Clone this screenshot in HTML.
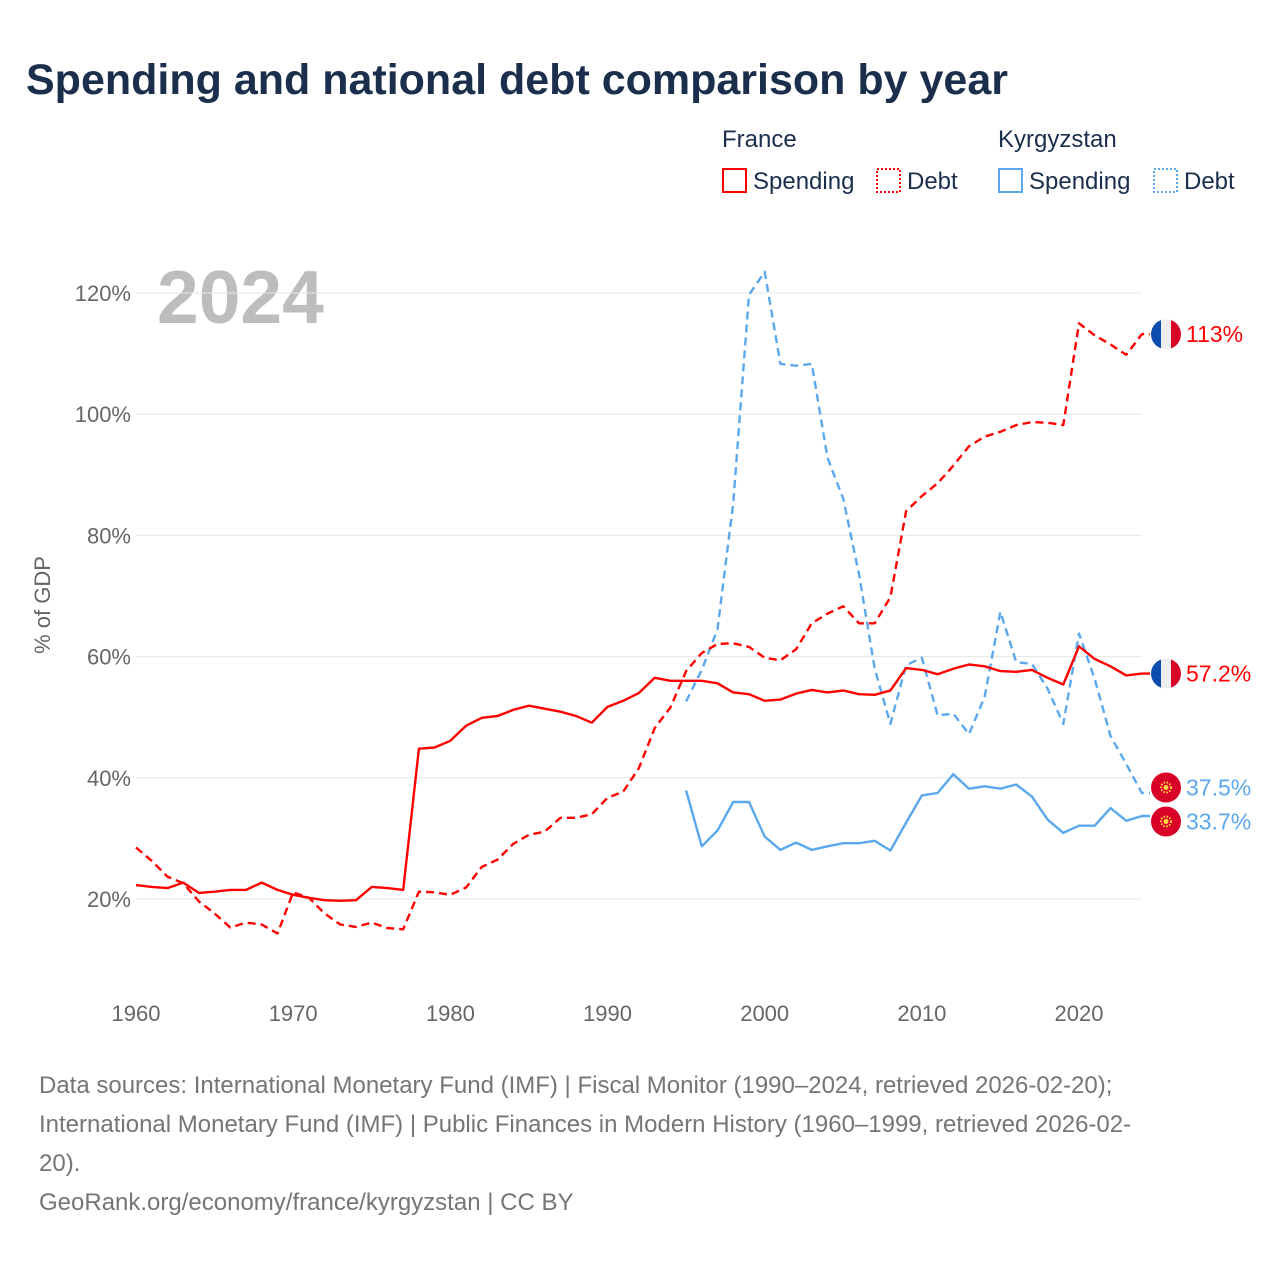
<!DOCTYPE html>
<html><head><meta charset="utf-8">
<style>
body{margin:0;background:#fff;font-family:"Liberation Sans",sans-serif;}
#wrap{position:relative;width:1280px;height:1280px;overflow:hidden;}
</style></head>
<body>
<div id="wrap">
<svg id="chart" width="1280" height="1280" xmlns="http://www.w3.org/2000/svg">
  <text x="26" y="94" font-size="43" font-weight="bold" fill="#1b2f4d">Spending and national debt comparison by year</text>
  <g font-size="24" fill="#1b2f4d">
    <text x="722" y="147">France</text>
    <text x="998" y="147">Kyrgyzstan</text>
    <g><rect x="723" y="169" width="23" height="23" fill="none" stroke="#ff0000" stroke-width="2"/><text x="753" y="189">Spending</text></g>
    <g><rect x="877" y="169" width="23" height="23" fill="none" stroke="#ff0000" stroke-width="2" stroke-dasharray="2,2"/><text x="907" y="189">Debt</text></g>
    <g><rect x="999" y="169" width="23" height="23" fill="none" stroke="#5ba8ec" stroke-width="2"/><text x="1029" y="189">Spending</text></g>
    <g><rect x="1154" y="169" width="23" height="23" fill="none" stroke="#5ba8ec" stroke-width="2" stroke-dasharray="2,2"/><text x="1184" y="189">Debt</text></g>
  </g>
  <text x="157" y="323" font-size="75" font-weight="bold" fill="#bdbdbd">2024</text>
  <text transform="translate(50,605) rotate(-90)" text-anchor="middle" font-size="22" fill="#666">% of GDP</text>
  <g id="grid"></g>
  <g id="xticks"></g>
  <g id="lines"></g>
  <g id="ends"></g>
  <g font-size="24" fill="#757575">
    <text x="39" y="1093">Data sources: International Monetary Fund (IMF) | Fiscal Monitor (1990–2024, retrieved 2026-02-20);</text>
    <text x="39" y="1132">International Monetary Fund (IMF) | Public Finances in Modern History (1960–1999, retrieved 2026-02-</text>
    <text x="39" y="1171">20).</text>
    <text x="39" y="1210">GeoRank.org/economy/france/kyrgyzstan | CC BY</text>
  </g>
</svg>
</div>
<script>
const yTicks = [20, 40, 60, 80, 100, 120];
const xTicks = [1960, 1970, 1980, 1990, 2000, 2010, 2020];
const franceYears = [1960,1961,1962,1963,1964,1965,1966,1967,1968,1969,1970,1971,1972,1973,1974,1975,1976,1977,1978,1979,1980,1981,1982,1983,1984,1985,1986,1987,1988,1989,1990,1991,1992,1993,1994,1995,1996,1997,1998,1999,2000,2001,2002,2003,2004,2005,2006,2007,2008,2009,2010,2011,2012,2013,2014,2015,2016,2017,2018,2019,2020,2021,2022,2023,2024];
const franceSpending = [22.3,22.0,21.8,22.7,21.0,21.2,21.5,21.5,22.7,21.5,20.7,20.2,19.8,19.7,19.8,22.0,21.8,21.5,44.8,45.0,46.1,48.6,49.9,50.2,51.2,51.9,51.4,50.9,50.2,49.1,51.7,52.7,54.0,56.5,56.0,56.0,56.0,55.6,54.1,53.8,52.7,52.9,53.9,54.5,54.1,54.4,53.8,53.7,54.4,58.1,57.8,57.1,58.0,58.7,58.4,57.6,57.5,57.8,56.5,55.4,61.7,59.6,58.4,56.9,57.2];
const franceDebt = [28.5,26.3,23.7,22.6,19.6,17.6,15.3,16.1,15.8,14.3,21.1,20.2,17.6,15.8,15.4,16.1,15.2,15.0,21.2,21.1,20.7,21.9,25.3,26.5,29.1,30.6,31.1,33.4,33.4,34.0,36.7,37.7,41.6,48.2,51.6,57.6,60.6,62.1,62.2,61.6,59.8,59.4,61.2,65.5,67.1,68.3,65.5,65.5,69.8,84.0,86.5,88.6,91.5,94.7,96.3,97.1,98.2,98.7,98.6,98.2,115.0,113.0,111.5,109.8,113.2];
const kgYears = [1995,1996,1997,1998,1999,2000,2001,2002,2003,2004,2005,2006,2007,2008,2009,2010,2011,2012,2013,2014,2015,2016,2017,2018,2019,2020,2021,2022,2023,2024];
const kgSpending = [37.9,28.7,31.3,36.0,36.0,30.3,28.1,29.3,28.1,28.7,29.2,29.2,29.6,28.0,32.6,37.1,37.5,40.6,38.2,38.6,38.2,38.9,36.9,33.1,30.9,32.1,32.1,35.0,32.9,33.7];
const kgDebt = [52.6,57.8,64.5,85.3,119.7,123.5,108.3,108.0,108.3,92.8,86.0,73.6,58.0,48.9,58.6,59.8,50.3,50.6,47.2,53.4,67.4,59.1,58.8,54.7,48.9,63.8,56.3,46.9,42.3,37.5];
const endLabels = ["113%", "57.2%", "37.5%", "33.7%"];

const NS = "http://www.w3.org/2000/svg";
const X = yr => 136 + (yr - 1960) * 15.717;
const Y = v => 1020.2 - v * 6.06;
function mk(tag, attrs, parent){ const e=document.createElementNS(NS,tag); for(const k in attrs) e.setAttribute(k, attrs[k]); parent.appendChild(e); return e; }

const grid = document.getElementById('grid');
yTicks.forEach(t => {
  const l = mk('line',{x1:136,x2:1142,y1:Y(t),y2:Y(t),stroke:'#e6e6e6','stroke-width':1},grid);
  
  
  const tx = mk('text',{x:131,y:Y(t)+8,'text-anchor':'end','font-size':22,fill:'#666'},grid);
  tx.textContent = t + '%';
  
  
});
const xt = document.getElementById('xticks');
xTicks.forEach(t => {
  const tx = mk('text',{x:X(t),y:1021,'text-anchor':'middle','font-size':22,fill:'#666'},xt);
  tx.textContent = t;
  
  
});

const lines = document.getElementById('lines');
function series(years, vals, color, dashed, name){
  let d = years.map((yr,i)=>(i?'L':'M')+X(yr).toFixed(1)+','+Y(vals[i]).toFixed(1)).join(' ');
  d += ' L1150,' + Y(vals[vals.length-1]).toFixed(1);
  const p = mk('path',{d:d,fill:'none',stroke:color,'stroke-width':2.4,'stroke-linejoin':'round'},lines);
  if(dashed) p.setAttribute('stroke-dasharray','8,5');
  
  
}
series(kgYears, kgDebt, '#5ba8ec', true, 'line-kyrgyzstan-debt');
series(kgYears, kgSpending, '#5ba8ec', false, 'line-kyrgyzstan-spending');
series(franceYears, franceDebt, '#ff0000', true, 'line-france-debt');
series(franceYears, franceSpending, '#ff0000', false, 'line-france-spending');

const ends = document.getElementById('ends');
function frFlag(cy, i){
  const g = mk('g',{},ends);
  
  
  const cp = mk('clipPath',{id:'fc'+i},g);
  mk('circle',{cx:1166,cy:cy,r:15},cp);
  const inner = mk('g',{'clip-path':'url(#fc'+i+')'},g);
  mk('rect',{x:1151,y:cy-15,width:10,height:30,fill:'#0c4dad'},inner);
  mk('rect',{x:1161,y:cy-15,width:10,height:30,fill:'#eeeeee'},inner);
  mk('rect',{x:1171,y:cy-15,width:10,height:30,fill:'#d80027'},inner);
}
function kgFlag(cy){
  const g = mk('g',{},ends);
  
  
  mk('circle',{cx:1166,cy:cy,r:15,fill:'#d80027'},g);
  mk('circle',{cx:1166,cy:cy,r:5,fill:'none',stroke:'#ffda44','stroke-width':2,'stroke-dasharray':'1.5,1.5'},g);
  mk('circle',{cx:1166,cy:cy,r:2.5,fill:'#ffda44'},g);
}
const endVals = [franceDebt[franceDebt.length-1], franceSpending[franceSpending.length-1], kgDebt[kgDebt.length-1], kgSpending[kgSpending.length-1]];
let endPos = endVals.map(v => Y(v));
// keep kyrgyz labels from overlapping (min 34px apart)
if (Math.abs(endPos[3] - endPos[2]) < 34) {
  const mid = (endPos[2] + endPos[3]) / 2;
  const up = endPos[2] <= endPos[3];
  endPos[2] = mid + (up ? -17 : 17);
  endPos[3] = mid + (up ? 17 : -17);
}
endPos.forEach((cy,i)=>{
  if(i<2) frFlag(cy,i); else kgFlag(cy);
  const t = mk('text',{x:1186,y:cy+8,'font-size':23,fill:i<2?'#ff0000':'#5ba8ec'},ends);
  t.textContent = endLabels[i];
  
  
});
</script>
</body></html>
